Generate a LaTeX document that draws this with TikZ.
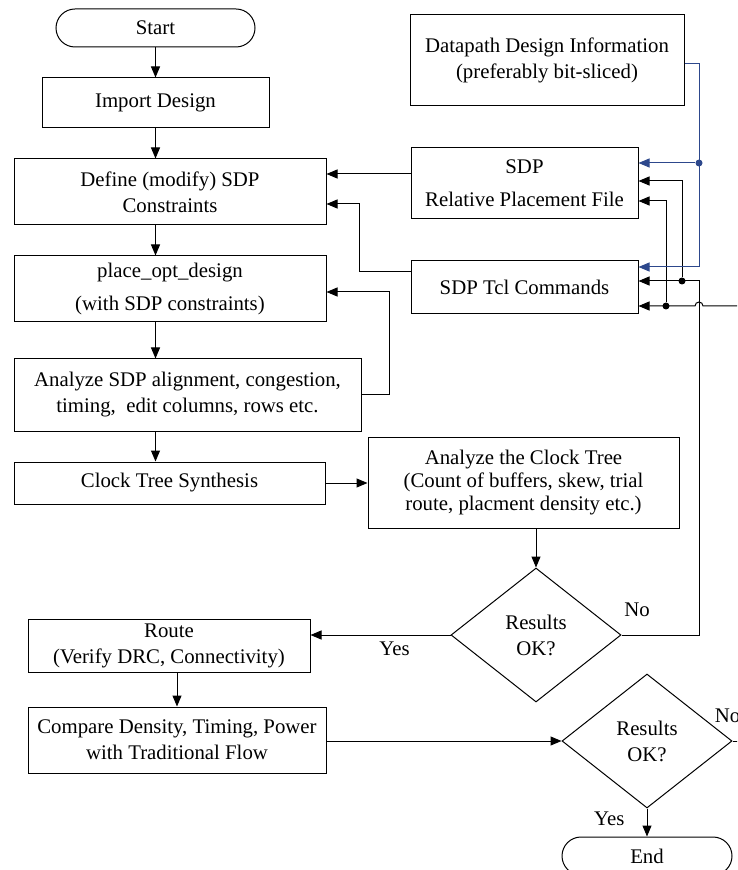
\documentclass[tikz,border=0pt]{standalone}
\usepackage{fontspec}
\setmainfont{Liberation Serif}
\usetikzlibrary{shapes.geometric, arrows.meta}
\definecolor{sdpblue}{RGB}{45,72,140}
\tikzstyle{process} = [rectangle, 
draw=black, 
align=center, 
inner sep=1pt]
\tikzstyle{terminal} = [process, 
rounded corners=9.5pt]
\tikzstyle{decision} = [diamond, 
draw=black, 
align=center, 
inner sep=0pt, 
minimum width=85pt, 
minimum height=67pt]
\tikzstyle{arrow} = [-{Triangle[length=5.5pt,width=4.5pt]}]
\tikzstyle{bluearrow} = [arrow, draw=sdpblue]
\tikzstyle{junction} = [circle, fill=black, inner sep=0pt, minimum size=3.5pt]
\tikzstyle{edgetext} = [inner sep=1pt]

\begin{document}
\begin{tikzpicture}[x=0.5pt, y=-0.5pt, line width=0.5pt, font=\fontsize{10.4pt}{13pt}\selectfont]
  \useasboundingbox (0,0) rectangle (737,870);
  \clip (0,0) rectangle (737,870);

  % main flow
  \node (start) [terminal, minimum width=99.5pt, minimum height=19pt] at (155.5,28) {Start};
  \node (import) [process, minimum width=113.5pt, minimum height=25pt] at (155.5,103) {Import Design};
  \node (define) [process, minimum width=156pt, minimum height=33pt] at (170,192) {Define (modify) SDP\\Constraints};
  \node (place) [process, minimum width=156pt, minimum height=33pt] at (170,289) {place\_opt\_design\\[3.5pt](with SDP constraints)};
  \node (asdp) [process, minimum width=173.5pt, minimum height=36pt] at (187.5,395) {Analyze SDP alignment, congestion,\\timing,\ \ edit columns, rows etc.};
  \node (cts) [process, minimum width=155.5pt, minimum height=21pt] at (169.5,483) {Clock Tree Synthesis};
  \node (act) [process, minimum width=155.5pt, minimum height=45.5pt] at (523.5,482.5) {Analyze the Clock Tree\\[-1.5pt](Count of buffers, skew, trial\\[-1.5pt]route, placment density etc.)};
  \node (check1) [decision] at (536,635) {Results\\OK?};
  \node (route) [process, minimum width=141pt, minimum height=26.5pt] at (169,645.5) {Route\\(Verify DRC, Connectivity)};
  \node (compare) [process, minimum width=149pt, minimum height=33pt] at (177,740) {Compare Density, Timing, Power\\with Traditional Flow};
  \node (check2) [decision] at (647,741) {Results\\OK?};
  \node (end) [terminal, minimum width=85pt, minimum height=19pt] at (647,856) {End};

  % SDP inputs
  \node (datapath) [process, minimum width=137pt, minimum height=45.5pt] at (547,60.5) {Datapath Design Information\\(preferably bit-sliced)};
  \node (rpf) [process, minimum width=113.5pt, minimum height=35.5pt] at (524.5,183.5) {SDP\\[3.5pt]Relative Placement File};
  \node (tcl) [process, minimum width=113.5pt, minimum height=26.5pt] at (524.5,287.5) {SDP Tcl Commands};

  \coordinate (offright) at (745,741);
  \coordinate (offright2) at (745,306);
  \coordinate (hop) at (699,306);

  \draw [arrow] (start) -- (import);
  \draw [arrow] (import) -- (import |- define.north);
  \draw [arrow] (define.south -| import) -- (place.north -| import);
  \draw [arrow] (place.south -| import) -- (asdp.north -| import);
  \draw [arrow] (asdp.south -| import) -- (cts.north -| import);
  \draw [arrow] ([yshift=4.75pt]rpf.west) -- ([yshift=4.75pt]rpf.west -| define.east);
  \draw [arrow] ([yshift=7.75pt]tcl.west) -- ++(-51,0) |- ([yshift=-6pt]define.east);
  \draw [arrow] (asdp.east) -- ++(28,0) |- ([yshift=-1.5pt]place.east);
  \draw [arrow] (cts) -- (cts -| act.west);
  \draw [arrow] (act.south -| check1) -- (check1.north);
  \draw [arrow] (check1.west) -- node[edgetext, pos=0.4, below=2pt] {Yes} (check1.west -| route.east);
  \draw [arrow] (route.south -| compare) -- (compare.north);
  \draw [arrow] (check2.west -| compare.east) -- (check2.west);
  \draw [arrow] (check2.south) -- node[edgetext, pos=0.35, left=10pt] {Yes} (end.north);
  \draw (check2.east) -- node[edgetext, pos=0, above=8pt, xshift=-2.5pt] {No} (offright);

  % feedback to the SDP files
  \draw [arrow] (check1.east) -- node[edgetext, pos=0.2, above=8pt] {No} ++(78,0) |- ([yshift=3.25pt]tcl.east);
  \node (tap1) [junction] at (682,281) {};
  \draw [arrow] (tap1) |- ([yshift=1.25pt]rpf.east);
  \draw [arrow] (offright2) -- ([xshift=2pt]hop) arc[start angle=0, end angle=180, radius=2pt] -- ([yshift=-9.25pt]tcl.east);
  \node (tap2) [junction] at (666,306) {};
  \draw [arrow] (tap2) |- ([yshift=-8.75pt]rpf.east);

  % datapath information
  \draw [bluearrow] ([yshift=-1.75pt]datapath.east) -- ++(15,0) |- ([yshift=10.25pt]tcl.east);
  \node (tap3) [junction, fill=sdpblue] at (699,163) {};
  \draw [bluearrow] (tap3) -- ([yshift=10.25pt]rpf.east);
\end{tikzpicture}
\end{document}
